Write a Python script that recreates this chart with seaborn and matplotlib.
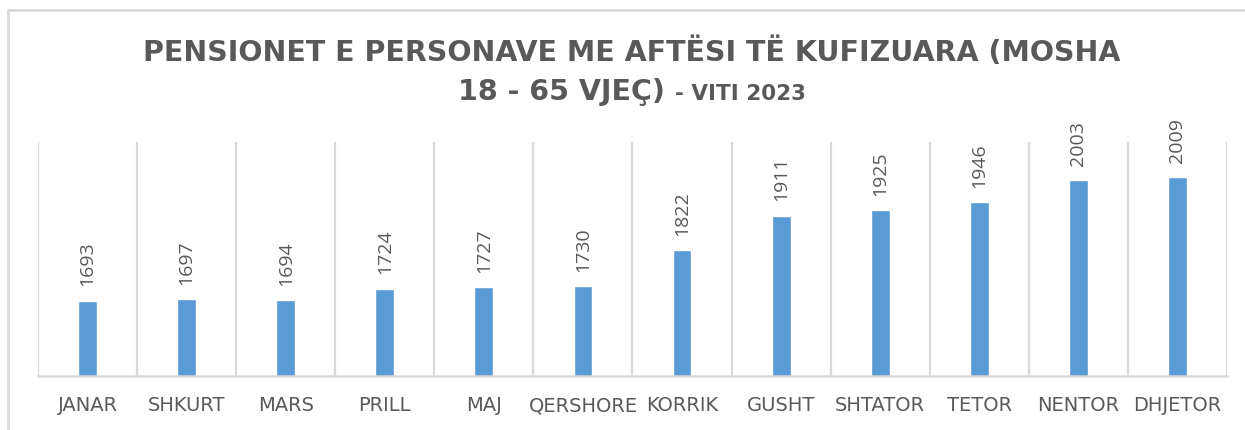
import matplotlib
matplotlib.use("Agg")
import matplotlib.pyplot as plt
import seaborn as sns
import pandas as pd
from matplotlib.lines import Line2D

months = ["JANAR", "SHKURT", "MARS", "PRILL", "MAJ", "QERSHORE",
          "KORRIK", "GUSHT", "SHTATOR", "TETOR", "NENTOR", "DHJETOR"]
values = [1693, 1697, 1694, 1724, 1727, 1730, 1822, 1911, 1925, 1946, 2003, 2009]
title_line1 = "PENSIONET E PERSONAVE ME AFTËSI TË KUFIZUARA (MOSHA"
title_line2a = "18 - 65 VJEÇ)"
title_line2b = "- VITI 2023"

sns.set_theme(style="white")
plt.rcParams['font.family'] = ['DejaVu Sans']

gray_text = "#595959"
grid_col = "#D9D9D9"
bar_col = "#5B9BD5"

fig = plt.figure(figsize=(12.45, 4.31), dpi=100)
fig.patch.set_facecolor("white")
ax = fig.add_axes([38/1245, 1-377/431, (1227-38)/1245, (377-143)/431])

df = pd.DataFrame({"month": months, "value": values})
sns.barplot(data=df, x="month", y="value", color=bar_col, width=0.19,
            saturation=1, ax=ax)

ax.set_ylim(1500, 2100)
ax.set_xlim(-0.5, len(months) - 0.5)
ax.set_yticks([])
ax.set_xlabel("")
ax.set_ylabel("")
for s in ["left", "top", "right"]:
    ax.spines[s].set_visible(False)
ax.spines["bottom"].set_color(grid_col)
ax.spines["bottom"].set_linewidth(1.8)

# vertical category separators
ax.set_xticks([i - 0.5 for i in range(len(months) + 1)], minor=True)
ax.grid(True, axis="x", which="minor", color=grid_col, linewidth=1.6)
ax.grid(False, axis="x", which="major")
ax.tick_params(axis="x", which="both", length=0, pad=14)
ax.set_xticks(range(len(months)))
ax.set_xticklabels(months, fontsize=14, color=gray_text)
ax.set_axisbelow(True)

for i, v in enumerate(values):
    ax.annotate(str(v), xy=(i, v), xytext=(0, 11), textcoords="offset points",
                rotation=90, ha="center", va="bottom", fontsize=14,
                color=gray_text, family="Open Sans", annotation_clip=False)

# Title
fig.text(632/1245, 1-52/431, title_line1, ha="center", va="center",
         fontsize=20.5, fontweight="bold", color=gray_text)
t1 = fig.text(0, 1-100/431, title_line2a, ha="left", va="baseline",
              fontsize=20.5, fontweight="bold", color=gray_text)
t2 = fig.text(0, 1-100/431, title_line2b, ha="left", va="baseline",
              fontsize=15.5, fontweight="bold", color=gray_text)
fig.canvas.draw()
r = fig.canvas.get_renderer()
w1 = t1.get_window_extent(r).width
w2 = t2.get_window_extent(r).width
gap = 10
start = 632 - (w1 + gap + w2) / 2
t1.set_x(start / 1245)
t2.set_x((start + w1 + gap) / 1245)

# outer frame (partial, as in the reference)
fig.add_artist(Line2D([8/1245, 1.0], [1-11/431, 1-11/431], transform=fig.transFigure,
                      color=grid_col, linewidth=2))
fig.add_artist(Line2D([8/1245, 8/1245], [0.0, 1-11/431], transform=fig.transFigure,
                      color=grid_col, linewidth=2))

fig.savefig("out.png", dpi=100, facecolor="white")
